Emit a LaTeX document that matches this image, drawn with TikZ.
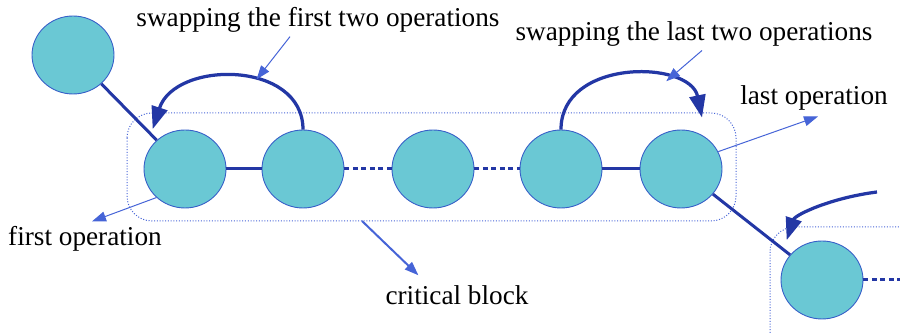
\documentclass[tikz,border=0pt]{standalone}
\usepackage{fontspec}
\setmainfont{Liberation Serif}
\newfontfamily\labelfont{Liberation Serif}
\usetikzlibrary{shapes.geometric,arrows.meta,calc}
\definecolor{opfill}{RGB}{106,200,212}
\definecolor{opline}{RGB}{35,55,165}
\definecolor{opedge}{RGB}{55,95,200}
\definecolor{blkline}{RGB}{70,100,215}
\tikzset{
	op/.style={ellipse, draw=opedge, fill=opfill, line width=0.18mm, minimum width=1.64cm, minimum height=1.56cm, inner sep=0pt},
	link/.style={opline, line width=0.6mm},
	swaparrow/.style={opline, line width=0.65mm, -{Triangle[length=0.45cm,width=0.32cm]}},
	note/.style={blkline, line width=0.2mm, -{Triangle[length=0.28cm,width=0.2cm]}},
	lbl/.style={font=\labelfont\fontsize{15.5}{17}\selectfont, inner sep=1pt}
}
\begin{document}
\begin{tikzpicture}[x=0.02cm, y=-0.02cm]
\clip (0,0) rectangle (900,333);
% blocks
\draw[blkline, line width=0.2mm, densely dotted, rounded corners=0.5cm](127,113) rectangle (736,221);
\draw[blkline, line width=0.2mm, densely dotted, rounded corners=0.5cm](770,227) rectangle (930,360);
% operations
\node[op] (c0) at (73,55) {};
\foreach \name/\x in {c1/185, c2/303, c3/433, c4/561, c5/681}{
	\node[op] (\name) at (\x,169) {};
}
\node[op] (c6) at (822,280) {};
\coordinate (nxt) at (877,192);
\coordinate (tail) at (905,280);
\coordinate (blk) at (362,221);
% links
\draw[link](c0)--(c1);
\draw[link](c1)--(c2);
\draw[link, dash pattern=on 1mm off 0.7mm](c2)--(c3);
\draw[link, dash pattern=on 1mm off 0.7mm](c3)--(c4);
\draw[link](c4)--(c5);
\draw[link](c5)--(c6);
\draw[link, dash pattern=on 1mm off 0.7mm](c6)--(tail);
% swaps
\draw[swaparrow](c2.north) .. controls (303,60) and (175,60) .. coordinate[pos=0.4] (swA) ([shift={(-3,-12)}]c1.north west);
\draw[swaparrow](c4.north) .. controls (561,58) and (690,60) .. coordinate[pos=0.7] (swB) ([shift={(21,-12)}]c5.north);
\draw[swaparrow](nxt) .. controls (830,198) and (795,215) .. ([shift={(-6,-12)}]c6.north west);
% labels
\node[lbl] (lblA) at (318,20) {swapping the first two operations};
\node[lbl] (lblB) at (694,34) {swapping the last two operations};
\node[lbl] (lblL) at (814,98) {last operation};
\node[lbl] (lblF) at (85,239) {first operation};
\node[lbl] (lblC) at (457,295) {critical block};
\draw[note]($(lblA.south)+(-28,2)$)--(swA);
\draw[note]($(lblB.south)+(8,2)$)--(swB);
\draw[note](c5.25)--($(lblL.south)+(4,4)$);
\draw[note](c1.225)--($(lblF.north)+(7,-3)$);
\draw[note, line width=0.4mm](blk)--($(lblC.north west)+(35,-8)$);
\end{tikzpicture}
\end{document}
